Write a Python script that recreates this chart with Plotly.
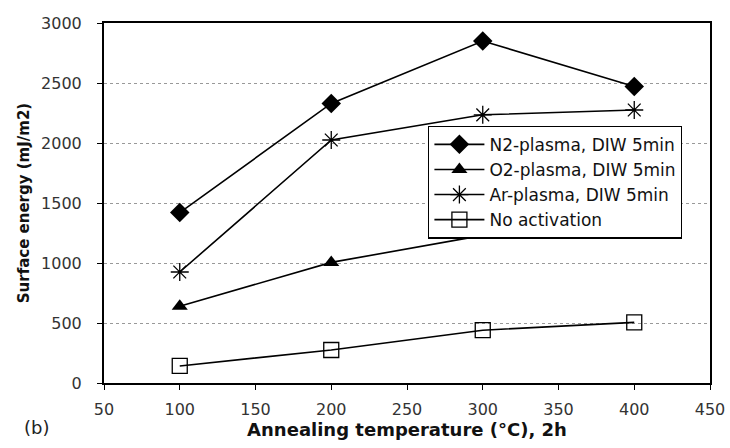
import plotly.graph_objects as go

temps = [100, 200, 300, 400]
n2_plasma = [1420, 2330, 2850, 2470]
o2_plasma = [640, 1005, 1230, 1250]
ar_plasma = [925, 2025, 2235, 2275]
no_activation = [142, 275, 440, 505]

x_ticks = [50, 100, 150, 200, 250, 300, 350, 400, 450]
y_ticks = [0, 500, 1000, 1500, 2000, 2500, 3000]

FONT = "DejaVu Sans, Liberation Sans, sans-serif"

fig = go.Figure()
series = [
    ("N2-plasma, DIW 5min", n2_plasma, dict(symbol="diamond", size=15, color="black")),
    ("O2-plasma, DIW 5min", o2_plasma, dict(symbol="triangle-up", size=14, color="black")),
    ("Ar-plasma, DIW 5min", ar_plasma, dict(symbol="asterisk-open", size=15, color="black",
                                             line=dict(color="black", width=1.3))),
    ("No activation", no_activation, dict(symbol="square-open", size=15, color="black",
                                           line=dict(color="black", width=1.3))),
]
for name, vals, mk in series:
    fig.add_trace(go.Scatter(x=temps, y=vals, name=name, mode="lines+markers",
                             line=dict(color="black", width=1.6), marker=mk))

fig.update_layout(
    width=730, height=448,
    margin=dict(l=104, r=20, t=23, b=65, autoexpand=False),
    paper_bgcolor="white", plot_bgcolor="white",
    font=dict(family=FONT, size=16, color="#222"),
    showlegend=True,
    legend=dict(x=0.535, y=0.715, xanchor="left", yanchor="top",
                bordercolor="black", borderwidth=1.2, bgcolor="white",
                font=dict(size=17, color="#111"), tracegroupgap=0,
                itemwidth=50),
    xaxis=dict(range=[50, 450], tickvals=x_ticks, showgrid=False,
               showline=True, linecolor="black", linewidth=2, mirror=True,
               ticks="outside", ticklen=5, tickcolor="black",
               ticklabelstandoff=6, automargin=False,
               tickfont=dict(size=16, color="#333"),
               title=dict(text="<b>Annealing temperature (°C), 2h</b>",
                          font=dict(size=18, color="#111"), standoff=4),
               zeroline=False),
    yaxis=dict(range=[0, 3000], tickvals=y_ticks, showgrid=True,
               gridcolor="#999", griddash="dot", gridwidth=1,
               showline=True, linecolor="black", linewidth=2, mirror=True,
               ticks="outside", ticklen=5, tickcolor="black",
               ticklabelstandoff=12, automargin=False,
               tickfont=dict(size=16, color="#333"),
               title=dict(text="<b>Surface energy (mJ/m2)</b>",
                          font=dict(size=15, color="#111"), standoff=8),
               zeroline=False),
)
fig.add_annotation(text="(b)", xref="paper", yref="paper", x=-0.135, y=-0.09,
                   xanchor="left", yanchor="top", showarrow=False,
                   font=dict(size=18, color="#222"))
fig.write_html("out.html")
